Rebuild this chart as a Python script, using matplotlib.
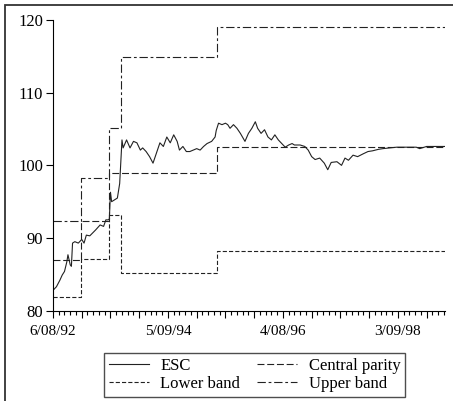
#!/usr/bin/env python3

import matplotlib
matplotlib.use("Agg")
import matplotlib.pyplot as plt
from matplotlib.ticker import FixedLocator, FixedFormatter, MultipleLocator

plt.rcParams["font.family"] = ["Liberation Serif", "DejaVu Serif"]
plt.rcParams["lines.scale_dashes"] = False

# ---- DATA (weeks since 6/08/92) ----
esc_weeks = [0, 3, 6, 8, 10, 12, 13, 15, 16, 17, 19, 22, 25, 27, 29, 32, 37, 41, 44, 46,
             48, 49, 50, 51, 53, 56, 58, 59, 60, 61, 64, 67, 70, 73, 76, 78, 81, 84, 87, 90,
             93, 96, 99, 102, 105, 108, 110, 113, 116, 119, 122, 125, 128, 131, 134, 138,
             141, 142, 144, 147, 150, 152, 154, 157, 160, 163, 167, 170, 173, 176, 178, 181,
             184, 187, 190, 193, 196, 199, 202, 205, 208, 210, 215, 219, 222, 225, 228, 232,
             236, 239, 242, 247, 251, 254, 257, 261, 265, 270, 274, 278, 283, 287, 293, 299,
             308, 316, 319, 325, 334, 341]
esc_values = [82.8, 83.3, 84.2, 84.9, 85.4, 86.7, 87.7, 86.3, 86.1, 89.3, 89.5, 89.3, 89.8,
              89.3, 90.4, 90.3, 91.1, 91.8, 91.6, 92.5, 92.5, 92.6, 96.3, 95.0, 95.2, 95.5,
              97.5, 100.5, 103.5, 102.4, 103.5, 102.4, 103.3, 103.1, 102.1, 102.4, 101.9,
              101.2, 100.3, 101.7, 103.1, 102.6, 103.9, 103.1, 104.2, 103.3, 102.1, 102.6,
              101.9, 101.9, 102.1, 102.3, 102.1, 102.6, 103.0, 103.3, 103.9, 104.8, 105.8,
              105.6, 105.8, 105.6, 105.1, 105.6, 105.1, 104.4, 103.3, 104.4, 105.1, 106.0,
              105.1, 104.4, 104.9, 103.9, 103.5, 104.2, 103.5, 103.0, 102.5, 102.8, 103.0,
              102.8, 102.8, 102.6, 102.1, 101.2, 100.8, 101.0, 100.3, 99.4, 100.4, 100.5,
              100.0, 101.0, 100.7, 101.4, 101.2, 101.6, 101.9, 102.0, 102.2, 102.3, 102.4,
              102.5, 102.5, 102.5, 102.3, 102.6, 102.6, 102.6]

band_weeks = [0, 24, 49, 59, 143, 341]
central_parity = [87.0, 92.4, 98.9, 98.9, 102.55, 102.55]
lower_band = [81.9, 87.1, 93.2, 85.2, 88.25, 88.25]
upper_band = [92.3, 98.2, 105.1, 114.9, 119.05, 119.05]

tick_weeks = [0, 100, 200, 300]
tick_labels = ["6/08/92", "5/09/94", "4/08/96", "3/09/98"]

# ---- FIGURE ----
fig = plt.figure(figsize=(4.53, 4.01), dpi=100)
ax = fig.add_axes([53 / 453, 1 - 310.7 / 401, 392 / 453, 290.7 / 401])

line_col = "#222222"
ax.plot(esc_weeks, esc_values, color=line_col, linewidth=0.8, label="ESC")
ax.plot(band_weeks, lower_band, color=line_col, linewidth=0.8,
        linestyle=(0, (3, 1.5)), drawstyle="steps-post", label="Lower band")
ax.plot(band_weeks, central_parity, color=line_col, linewidth=0.8,
        linestyle=(0, (5, 2)), drawstyle="steps-post", label="Central parity")
ax.plot(band_weeks, upper_band, color=line_col, linewidth=0.8,
        linestyle=(0, (6, 2, 2, 2)), drawstyle="steps-post", label="Upper band")

ax.set_xlim(0, 341)
ax.set_ylim(80, 120)
ax.spines["top"].set_visible(False)
ax.spines["right"].set_visible(False)

# x ticks: long every 25 weeks, labels every 100, short every 5
major_pos = list(range(0, 341, 25))
major_lab = [tick_labels[tick_weeks.index(p)] if p in tick_weeks else "" for p in major_pos]
ax.xaxis.set_major_locator(FixedLocator(major_pos))
ax.xaxis.set_major_formatter(FixedFormatter(major_lab))
ax.xaxis.set_minor_locator(MultipleLocator(5))
ax.tick_params(axis="x", which="major", length=5, width=0.8, labelsize=11, pad=5)
ax.tick_params(axis="x", which="minor", length=3, width=0.8)
ax.set_yticks([80, 90, 100, 110, 120])
ax.tick_params(axis="y", length=5, width=0.8, labelsize=12, pad=2)

leg = fig.legend(loc="center", bbox_to_anchor=(0.562, 0.065), ncol=2, fontsize=12,
                 frameon=True, fancybox=False, edgecolor="#222222", handlelength=2.4,
                 handletextpad=0.7, columnspacing=1.0, labelspacing=0.1, borderpad=0.3,
                 borderaxespad=0.3)
leg.get_frame().set_linewidth(1.0)

# outer border (left and top visible)
fig.add_artist(plt.Rectangle((5 / 453, -0.1), 1.2, 0.1 + 1 - 5 / 401, transform=fig.transFigure,
                             fill=False, edgecolor="#333333", linewidth=1.3))

fig.savefig("out.png", dpi=100)
